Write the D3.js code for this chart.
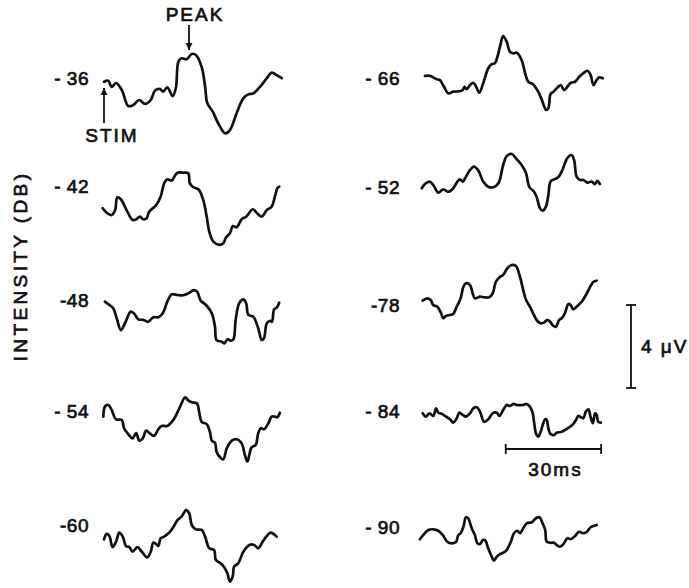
<!DOCTYPE html>
<html>
<head>
<meta charset="utf-8">
<script src="https://cdn.jsdelivr.net/npm/d3@7"></script>
<style>
  html, body { margin: 0; padding: 0; background: #fff; }
  svg { display: block; }
  text { font-family: "Liberation Sans", Arial, sans-serif; fill: #111; stroke: #111; stroke-width: 0.7px; }
</style>
</head>
<body>
<svg id="chart" width="689" height="588"></svg>
<script>
// Averaged evoked responses at decreasing stimulus intensity.
// Each trace: [time (ms after stimulus), amplitude (µV)].

const leftLevels = ["- 36", "- 42", "-48", "- 54", "-60"];
const rightLevels = ["- 66", "- 52", "-78", "- 84", "- 90"];

const trace36 = [[0,-0.18],[1.35,-0.13],[2.4,-0.43],[3.8,-0.24],[5.6,-0.58],[7.6,-1.35],[9.2,-1.30],[11.1,-1.06],[12.9,-1.25],[14.7,-1.06],[16.0,-0.61],[17.6,-0.53],[18.6,-0.66],[19.9,-0.45],[21.6,-0.87],[22.6,-0.48],[23.4,0.79],[24.4,0.95],[26.0,0.90],[27.6,1.16],[28.9,1.11],[30.7,0.54],[31.8,-0.42],[32.5,-1.22],[34.2,-1.62],[35.9,-2.18],[38.1,-2.67],[39.6,-2.51],[41.7,-1.70],[43.8,-0.98],[45.4,-0.79],[47.0,-0.74],[49.1,-0.42],[51.2,-0.01],[52.7,0.26],[54.3,0.14],[55.9,-0.01]];

const trace42 = [[-0.4,-1.07],[0.85,-1.29],[2.4,-1.40],[3.5,-1.16],[4.2,-0.54],[5.3,-0.64],[7.1,-1.16],[9.0,-1.64],[10.1,-1.61],[11.3,-1.48],[12.4,-1.61],[13.4,-1.56],[14.2,-1.24],[16.4,-0.92],[17.8,-0.52],[18.9,0.13],[19.9,0.32],[21.3,0.26],[22.0,0.42],[23.1,0.64],[25.0,0.64],[26.5,0.61],[27.0,0.13],[28.1,-0.06],[29.7,-0.16],[31.2,-0.67],[32.3,-1.48],[33.1,-2.20],[34.4,-2.68],[36.3,-2.84],[37.5,-2.76],[38.4,-2.47],[39.6,-2.28],[40.5,-1.93],[41.7,-1.99],[43.3,-1.60],[44.7,-1.48],[46.8,-1.12],[48.0,-1.29],[49.6,-1.48],[51.2,-1.16],[52.7,-1.00],[53.8,-0.48],[54.5,-0.11],[55.1,-0.03]];

const trace48 = [[0.3,-0.08],[1.7,-0.24],[2.9,-0.40],[4.0,-0.88],[5.3,-1.45],[6.6,-1.12],[8.4,-0.56],[9.4,-0.64],[10.8,-0.93],[12.4,-0.96],[13.9,-1.05],[15.5,-0.83],[17.1,-0.83],[18.5,-0.64],[19.9,-0.08],[21.3,0.27],[23.1,0.24],[24.9,0.23],[26.5,0.32],[28.3,0.48],[29.3,0.40],[30.4,-0.03],[32.1,-0.24],[33.9,-0.64],[34.9,-1.29],[35.4,-1.93],[37.0,-2.01],[37.8,-2.09],[38.9,-1.89],[39.8,-1.96],[40.7,-1.89],[41.4,-0.96],[42.5,-0.16],[43.8,0.03],[44.7,-0.16],[45.4,-0.72],[46.9,-0.80],[48.5,-1.36],[49.6,-1.93],[50.3,-1.85],[51.2,-1.12],[52.2,-1.00],[52.8,-1.05],[53.5,-0.45],[54.3,-0.37],[55.1,-0.13]];

const trace54 = [[-0.2,-0.27],[0.3,0.21],[1.4,0.29],[2.4,0.05],[3.8,-0.40],[5.6,-0.43],[6.3,-0.83],[7.6,-1.11],[9.0,-1.32],[10.1,-1.07],[11.1,-1.43],[12.2,-1.32],[13.2,-0.95],[14.2,-1.05],[15.7,-1.20],[17.1,-0.88],[18.1,-0.72],[19.9,-0.72],[21.8,-0.43],[23.7,0.13],[25.5,0.66],[26.5,0.51],[27.6,0.42],[29.2,0.37],[30.0,-0.11],[30.7,-0.52],[32.3,-0.63],[33.3,-1.00],[33.9,-1.43],[34.9,-1.53],[35.4,-1.96],[36.5,-2.23],[37.5,-2.33],[38.6,-1.80],[40.2,-1.43],[41.7,-1.36],[43.3,-1.56],[44.3,-2.12],[45.1,-2.44],[45.7,-2.12],[46.4,-1.75],[47.7,-1.64],[48.5,-1.07],[49.3,-0.83],[50.3,-0.88],[51.7,-0.59],[52.7,-0.27],[53.8,-0.27],[54.5,-0.30],[55.3,-0.08]];

const trace60 = [[0,-0.69],[0.85,-0.43],[1.7,-0.53],[2.7,-1.07],[3.8,-0.80],[4.8,-0.37],[5.9,-0.56],[6.9,-1.01],[8.0,-1.07],[9.0,-1.29],[10.5,-1.07],[11.9,-1.29],[13.6,-1.56],[14.7,-1.29],[15.5,-0.85],[16.4,-0.92],[17.1,-1.01],[17.8,-0.64],[18.9,-0.56],[20.5,-0.37],[22.0,-0.05],[23.1,0.24],[24.4,0.40],[25.8,0.72],[26.8,0.56],[27.6,0.00],[28.9,-0.21],[30.7,-0.24],[31.8,-0.56],[33.1,-1.12],[34.6,-1.20],[35.2,-1.69],[36.7,-1.85],[37.7,-2.01],[38.8,-2.33],[39.6,-2.73],[40.5,-2.46],[40.9,-2.01],[42.2,-1.85],[43.8,-1.29],[45.7,-0.96],[47.2,-0.96],[48.5,-1.12],[49.9,-0.80],[51.2,-0.53],[52.4,-0.37],[54.3,-0.56]];

const trace66 = [[0.3,0.10],[1.9,0.10],[4.0,-0.06],[5.0,-0.10],[6.3,-0.42],[7.6,-0.74],[9.2,-0.66],[11.1,-0.64],[12.2,-0.58],[12.7,-0.42],[13.4,-0.54],[14.5,-0.34],[15.5,-0.23],[16.4,-0.42],[17.4,-0.71],[18.6,-0.26],[20.2,0.47],[21.3,0.67],[22.3,0.71],[23.1,1.03],[23.9,1.51],[24.9,2.02],[26.0,1.75],[27.0,1.27],[28.1,1.19],[29.2,1.22],[30.7,0.87],[31.8,0.23],[32.8,-0.18],[34.2,-0.29],[35.9,-0.66],[37.0,-1.03],[38.4,-1.54],[39.1,-1.46],[39.8,-0.77],[40.7,-0.66],[41.7,-0.50],[43.0,-0.34],[44.0,-0.58],[45.1,-0.42],[46.1,-0.23],[47.5,-0.18],[48.8,0.06],[50.1,0.23],[51.4,0.35],[52.4,0.14],[53.3,-0.34],[54.3,-0.10],[55.1,0.03],[56.2,-0.01]];

const trace52 = [[-0.7,-0.06],[0.3,0.14],[1.7,0.26],[2.9,0.10],[4.5,-0.27],[6.1,-0.11],[7.6,-0.23],[9.2,-0.06],[10.5,0.26],[11.3,0.37],[12.2,0.26],[13.2,0.50],[14.5,0.82],[15.7,0.98],[17.1,0.79],[18.6,0.26],[20.2,0.01],[21.8,-0.01],[23.4,0.18],[24.9,1.06],[26.0,1.49],[27.6,1.59],[29.2,1.33],[30.7,1.06],[32.1,0.66],[33.1,0.01],[34.6,-0.23],[35.4,-0.47],[36.5,-1.03],[37.3,-1.14],[38.4,-0.92],[39.1,-0.39],[39.8,0.26],[40.9,0.37],[42.2,0.47],[43.6,0.85],[45.0,1.38],[46.4,1.54],[47.2,1.30],[48.0,0.50],[49.1,0.34],[50.1,0.34],[51.4,0.21],[52.7,0.26],[53.8,0.14],[54.5,0.30],[55.3,0.14]];

const trace78 = [[-0.4,0.21],[1.0,0.32],[2.1,0.24],[2.9,0.00],[4.2,-0.08],[5.3,-0.37],[6.1,-0.64],[6.9,-0.53],[8.0,-0.48],[9.2,-0.43],[10.3,-0.08],[11.5,0.32],[12.4,0.88],[13.2,1.05],[14.5,0.96],[15.3,0.56],[16.0,0.32],[17.6,0.40],[18.9,0.37],[20.5,0.37],[21.6,0.56],[22.6,1.12],[23.7,1.33],[24.9,1.45],[26.2,1.77],[27.6,1.93],[28.9,1.88],[30.2,1.36],[31.2,0.72],[32.1,0.24],[33.3,-0.08],[34.4,-0.43],[35.6,-0.76],[36.7,-0.88],[37.7,-0.85],[38.8,-0.72],[39.6,-0.80],[40.7,-1.01],[41.5,-1.05],[42.5,-0.72],[43.3,-0.64],[44.3,-0.40],[45.4,0.05],[46.1,0.00],[46.9,-0.21],[48.2,-0.05],[49.6,0.16],[51.2,0.56],[52.4,0.92],[53.3,1.12],[54.3,1.17]];

const trace84 = [[-0.4,-0.11],[0.6,-0.27],[1.7,-0.11],[2.9,-0.24],[3.8,0.13],[4.5,-0.08],[5.6,-0.14],[6.9,-0.27],[8.2,-0.40],[9.2,-0.56],[10.3,-0.35],[11.1,-0.08],[12.2,-0.19],[13.2,-0.27],[14.5,-0.11],[15.5,0.13],[16.6,0.18],[17.6,-0.03],[18.9,-0.52],[20.2,-0.40],[21.6,-0.11],[22.9,-0.08],[23.7,-0.24],[24.9,0.05],[26.0,0.29],[27.0,0.24],[28.1,0.34],[29.3,0.29],[31.0,0.29],[32.3,0.34],[33.3,0.21],[34.2,-0.11],[34.6,-0.52],[35.2,-1.07],[35.9,-1.24],[36.7,-1.00],[37.5,-0.59],[38.1,-0.40],[38.6,-0.43],[39.1,-0.83],[39.8,-1.11],[40.9,-1.16],[41.7,-1.05],[43.3,-1.00],[44.7,-0.88],[45.9,-0.76],[46.9,-0.63],[47.8,-0.43],[48.5,-0.24],[49.3,-0.30],[50.1,-0.35],[50.9,-0.03],[51.7,0.08],[52.4,-0.30],[53.1,-0.59],[53.8,-0.11],[54.3,-0.19],[54.8,-0.52],[55.6,-0.56]];

const trace90 = [[-1.3,-0.59],[0,-0.34],[1.4,-0.14],[2.9,-0.11],[4.5,-0.18],[6.1,-0.43],[7.3,-0.71],[8.7,-0.79],[10.1,-0.71],[10.8,-0.39],[11.5,-0.30],[12.4,0.01],[13.2,0.47],[13.9,0.42],[15.0,-0.06],[16.0,-0.39],[16.8,-0.79],[17.6,-0.82],[18.5,-0.63],[19.2,-0.63],[20.2,-1.03],[21.3,-1.43],[22.0,-1.62],[22.9,-1.43],[23.9,-1.30],[24.9,-1.24],[26.0,-1.11],[27.3,-0.71],[28.3,-0.30],[29.3,-0.18],[30.2,-0.30],[31.2,-0.06],[32.3,0.18],[33.9,0.23],[35.2,0.42],[36.3,0.47],[37.3,0.18],[38.1,-0.14],[38.6,-0.71],[39.8,-0.76],[40.9,-0.76],[41.7,-0.87],[42.8,-0.95],[44.0,-0.79],[45.1,-0.54],[46.1,-0.59],[47.5,-0.43],[48.8,-0.23],[49.9,-0.30],[51.2,-0.23],[52.4,-0.01],[53.3,0.05],[54.3,0.10]];

const leftTraces = [trace36, trace42, trace48, trace54, trace60];
const rightTraces = [trace66, trace52, trace78, trace84, trace90];

// Calibration bars
const voltBar = 4;     // µV
const timeBar = 30;    // ms

// ---- layout ----
const svg = d3.select("#chart");
const PX_MS = 3.18, PX_UV = 20.75;
const leftRows = [78, 186, 300, 411, 525];
const rightRows = [78, 187, 305, 411, 527];

const xLeft = d3.scaleLinear().domain([0, 56]).range([104, 104 + 56 * PX_MS]);
const xRight = d3.scaleLinear().domain([0, 56]).range([424, 424 + 56 * PX_MS]);
const rowScale = base => d3.scaleLinear().domain([-3, 3]).range([base + 3 * PX_UV, base - 3 * PX_UV]);

const curve = d3.curveCatmullRom.alpha(0.5);

function drawColumn(traces, levels, rows, x, labelX) {
  traces.forEach((tr, i) => {
    const y = rowScale(rows[i]);
    const line = d3.line().x(d => x(d[0])).y(d => y(d[1])).curve(curve);
    svg.append("path")
      .datum(tr)
      .attr("d", line)
      .attr("fill", "none")
      .attr("stroke", "#111")
      .attr("stroke-width", 2.7)
      .attr("stroke-linejoin", "round")
      .attr("stroke-linecap", "round");
    svg.append("text")
      .attr("x", labelX)
      .attr("y", rows[i])
      .attr("dy", "0.36em")
      .attr("text-anchor", "end")
      .attr("font-size", 19)
      .attr("letter-spacing", 0.5)
      .text(levels[i]);
  });
}

drawColumn(leftTraces, leftLevels, leftRows, xLeft, 89);
drawColumn(rightTraces, rightLevels, rightRows, xRight, 400);

// Axis title
svg.append("text")
  .attr("transform", "translate(27,266) rotate(-90)")
  .attr("text-anchor", "middle")
  .attr("font-size", 19)
  .attr("letter-spacing", 3.4)
  .text("INTENSITY (DB)");

// Arrow marker
svg.append("defs").append("marker")
  .attr("id", "arrow")
  .attr("viewBox", "0 0 10 10")
  .attr("refX", 10).attr("refY", 5)
  .attr("markerWidth", 7).attr("markerHeight", 9)
  .attr("markerUnits", "userSpaceOnUse")
  .attr("orient", "auto")
  .append("path")
  .attr("d", "M0,0 L10,5 L0,10 Z")
  .attr("fill", "#111");

// PEAK annotation
svg.append("text")
  .attr("x", 195).attr("y", 21)
  .attr("text-anchor", "middle")
  .attr("font-size", 19)
  .attr("letter-spacing", 2)
  .text("PEAK");
svg.append("line")
  .attr("x1", 189).attr("y1", 25)
  .attr("x2", 189).attr("y2", 50)
  .attr("stroke", "#111").attr("stroke-width", 1.8)
  .attr("marker-end", "url(#arrow)");

// STIM annotation
svg.append("line")
  .attr("x1", xLeft(0)).attr("y1", 123)
  .attr("x2", xLeft(0)).attr("y2", 88)
  .attr("stroke", "#111").attr("stroke-width", 1.8)
  .attr("marker-end", "url(#arrow)");
svg.append("text")
  .attr("x", 112).attr("y", 142)
  .attr("text-anchor", "middle")
  .attr("font-size", 19)
  .attr("letter-spacing", 2)
  .text("STIM");

// Voltage calibration bar (drawn in the -78 row's scale)
const yCal = rowScale(rightRows[2]);
const vbX = 631;
const vb = svg.append("g").attr("stroke", "#111").attr("stroke-width", 1.8);
vb.append("line").attr("x1", vbX).attr("x2", vbX).attr("y1", yCal(0)).attr("y2", yCal(-voltBar));
vb.append("line").attr("x1", vbX - 5).attr("x2", vbX + 5).attr("y1", yCal(0)).attr("y2", yCal(0));
vb.append("line").attr("x1", vbX - 5).attr("x2", vbX + 5).attr("y1", yCal(-voltBar)).attr("y2", yCal(-voltBar));
svg.append("text")
  .attr("x", 641).attr("y", (yCal(0) + yCal(-voltBar)) / 2)
  .attr("dy", "0.36em")
  .attr("font-size", 19)
  .attr("letter-spacing", 2)
  .text(voltBar + " \u03BCV");

// Time calibration bar (in the right column's time scale)
const tbStart = 25.7, tbY = 449;
const tb = svg.append("g").attr("stroke", "#111").attr("stroke-width", 1.8);
tb.append("line").attr("x1", xRight(tbStart)).attr("x2", xRight(tbStart + timeBar)).attr("y1", tbY).attr("y2", tbY);
tb.append("line").attr("x1", xRight(tbStart)).attr("x2", xRight(tbStart)).attr("y1", tbY - 5).attr("y2", tbY + 5);
tb.append("line").attr("x1", xRight(tbStart + timeBar)).attr("x2", xRight(tbStart + timeBar)).attr("y1", tbY - 5).attr("y2", tbY + 5);
svg.append("text")
  .attr("x", xRight(tbStart + timeBar / 2) + 2).attr("y", 476)
  .attr("text-anchor", "middle")
  .attr("font-size", 19)
  .attr("letter-spacing", 2)
  .text(timeBar + "ms");
</script>
</body>
</html>
